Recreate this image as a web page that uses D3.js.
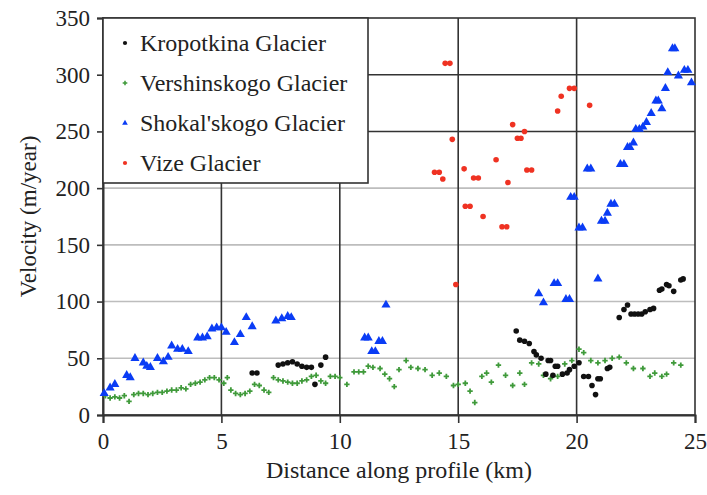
<!DOCTYPE html>
<html>
<head>
<meta charset="utf-8">
<script src="https://cdn.jsdelivr.net/npm/d3@7"></script>
<style>
  body { margin: 0; background: #fff; }
  svg text { font-family: "Liberation Serif", "DejaVu Serif", serif; fill: #222; }
</style>
</head>
<body>
<div id="chart"></div>
<script>
// velocities (km along profile, m/year)
var kropKm = [6.3,6.5,7.4,7.6,7.8,8.0,8.2,8.4,8.6,8.8,8.95,9.2,9.4,17.45,17.6,17.8,18.0,18.2,18.3,18.5,18.8,18.9,19.1,19.2,18.7,19.0,19.4,19.6,19.7,19.9,20.1,20.3,20.5,20.9,21.0,20.65,20.8,21.3,21.4,21.8,22.0,22.15,22.3,22.45,22.6,22.75,22.9,23.1,23.25,23.5,23.6,23.8,23.9,24.1,24.4,24.5];
var kropVel = [37,37,44,45,46,47,45,43,42,42,27,44,51,74,66,65,63,56,53,50,48,48,43,43,36,35,36,37,40,43,46,34,34,32,32,26,18,41,42,86,93,97,89,89,89,89,91,93,94,110,111,115,114,109,119,120];

var vershKm = [0.1,0.3,0.5,0.7,0.9,1.1,1.3,1.5,1.7,1.9,2.1,2.3,2.5,2.7,2.9,3.1,3.3,3.5,3.7,3.9,4.1,4.3,4.5,4.7,4.9,5.1,5.25,5.4,5.6,5.8,6.0,6.2,6.4,6.6,6.8,7.0,7.2,7.4,7.6,7.8,8.0,8.2,8.4,8.6,8.8,9.0,9.2,9.4,9.6,9.8,10.0,10.3,10.6,10.8,11.0,11.2,11.4,11.7,11.9,12.1,12.3,12.5,12.8,13.0,13.3,13.6,13.9,14.2,14.5,14.8,15.0,15.3,15.5,15.7,16.0,16.2,16.4,16.7,17.0,17.3,17.6,17.8,18.1,18.4,18.6,18.9,19.2,19.5,19.8,20.1,20.3,20.6,20.9,21.2,21.5,21.8,22.1,22.4,22.8,23.1,23.3,23.6,23.8,24.1,24.4];
var vershVel = [17,15,16,15,17,12,18,19,19,18,19,20,20,21,22,22,24,23,27,28,29,31,33,33,31,28,33,22,19,18,19,21,27,26,22,20,33,31,30,29,28,28,30,31,34,35,30,28,34,34,33,27,38,38,38,43,42,41,36,32,25,40,48,42,41,40,35,37,34,26,27,28,21,11,34,37,29,44,35,26,37,27,46,45,35,32,34,45,48,58,55,48,46,48,50,51,46,41,41,34,37,34,36,46,44];

var shokKm = [0.05,0.3,0.5,1.0,1.15,1.35,1.7,1.85,2.0,2.3,2.55,2.75,2.9,3.15,3.35,3.6,4.0,4.2,4.4,4.6,4.8,5.0,5.2,5.55,5.8,6.05,6.3,7.3,7.55,7.8,7.95,11.05,11.2,11.35,11.5,11.65,11.8,11.95,18.4,18.6,19.05,19.2,19.55,19.7,19.75,19.9,20.1,20.25,20.45,20.6,20.9,21.05,21.2,21.3,21.45,21.6,21.85,22.0,22.15,22.25,22.4,22.5,22.65,22.8,22.95,23.15,23.35,23.45,23.6,23.75,23.85,24.05,24.15,24.3,24.55,24.7,24.85];
var shokVel = [19,24,27,35,33,50,46,43,42,50,47,51,61,58,58,56,68,68,69,76,77,77,73,64,71,86,78,83,85,87,86,68,68,56,56,65,65,97,107,99,116,116,102,102,192,192,165,165,217,217,120,171,171,178,186,186,221,221,236,236,240,252,252,254,258,266,277,277,270,288,302,323,323,299,304,304,293];

var vizeKm = [14.0,14.2,14.35,14.45,14.65,14.75,14.9,15.25,15.3,15.5,15.65,15.85,16.05,16.6,16.85,17.05,17.1,17.3,17.5,17.65,17.8,17.9,18.1,19.2,19.35,19.7,19.9,20.55];
var vizeVel = [214,214,208,310,310,243,115,217,184,184,209,209,175,225,166,166,205,256,244,244,250,216,216,268,281,288,288,273];

var seriesNames = ["Kropotkina Glacier", "Vershinskogo Glacier", "Shokal'skogo Glacier", "Vize Glacier"];
var xTicks = [0, 5, 10, 15, 20, 25];
var yTicks = [0, 50, 100, 150, 200, 250, 300, 350];

var W = 707, H = 495;
var margin = {top: 18, right: 12, bottom: 80, left: 103};
var width = W - margin.left - margin.right;
var height = H - margin.top - margin.bottom;

var svg = d3.select("#chart").append("svg")
    .attr("width", W)
    .attr("height", H);

var g = svg.append("g")
    .attr("transform", "translate(" + margin.left + "," + margin.top + ")");

var x = d3.scaleLinear().domain([0, 25]).range([0, width]);
var y = d3.scaleLinear().domain([0, 350]).range([height, 0]);

// horizontal grid (the two upper ones are printed darker)
g.selectAll(".hgrid")
  .data(yTicks.filter(d => d > 0 && d < 350))
  .enter().append("line")
    .attr("x1", 0).attr("x2", width)
    .attr("y1", d => y(d)).attr("y2", d => y(d))
    .attr("stroke", d => d >= 250 ? "#333" : "#bdbdbd")
    .attr("stroke-width", 1.6);

// vertical grid
g.selectAll(".vgrid")
  .data(xTicks.filter(d => d > 0 && d < 25))
  .enter().append("line")
    .attr("x1", d => x(d)).attr("x2", d => x(d))
    .attr("y1", 0).attr("y2", height)
    .attr("stroke", "#333")
    .attr("stroke-width", 1.6);

// frame
g.append("rect")
  .attr("width", width).attr("height", height)
  .attr("fill", "none").attr("stroke", "#333").attr("stroke-width", 1.6);

// axes
var xAxis = g.append("g")
  .attr("transform", "translate(0," + height + ")")
  .call(d3.axisBottom(x).tickValues(xTicks).tickSize(8).tickPadding(10));
var yAxis = g.append("g")
  .call(d3.axisLeft(y).tickValues(yTicks).tickSize(6).tickPadding(7));

[xAxis, yAxis].forEach(function(a) {
  a.select(".domain").attr("stroke", "#333").attr("stroke-width", 2);
  a.selectAll(".tick line").attr("stroke", "#333").attr("stroke-width", 1.6);
  a.selectAll(".tick text").attr("font-size", 23).attr("fill", "#222")
    .attr("font-family", "Liberation Serif, serif");
});

// axis titles
svg.append("text")
  .attr("x", margin.left + width / 2).attr("y", 478)
  .attr("text-anchor", "middle").attr("font-size", 24)
  .text("Distance along profile (km)");
svg.append("text")
  .attr("transform", "translate(36," + (margin.top + height / 2) + ") rotate(-90)")
  .attr("text-anchor", "middle").attr("font-size", 23)
  .text("Velocity (m/year)");

// markers
var pts = g.append("g");

pts.selectAll(".verch")
  .data(d3.zip(vershKm, vershVel))
  .enter().append("path")
    .attr("d", d3.symbol().type(d3.symbolCross).size(16))
    .attr("transform", d => "translate(" + x(d[0]) + "," + y(d[1]) + ")")
    .attr("fill", "#3f9a3a");

pts.selectAll(".krop")
  .data(d3.zip(kropKm, kropVel))
  .enter().append("circle")
    .attr("cx", d => x(d[0])).attr("cy", d => y(d[1]))
    .attr("r", 2.8).attr("fill", "#111");

pts.selectAll(".shok")
  .data(d3.zip(shokKm, shokVel))
  .enter().append("path")
    .attr("d", d3.symbol().type(d3.symbolTriangle).size(36))
    .attr("transform", d => "translate(" + x(d[0]) + "," + y(d[1]) + ")")
    .attr("fill", "#0a3cf5");

pts.selectAll(".vize")
  .data(d3.zip(vizeKm, vizeVel))
  .enter().append("circle")
    .attr("cx", d => x(d[0])).attr("cy", d => y(d[1]))
    .attr("r", 2.8).attr("fill", "#ef3222");

// legend
var leg = g.append("g");
leg.append("rect")
  .attr("x", 0).attr("y", 0).attr("width", 265).attr("height", 165)
  .attr("fill", "#fff").attr("stroke", "#333").attr("stroke-width", 1.6);

var legColors = ["#111", "#3f9a3a", "#0a3cf5", "#ef3222"];
var legShapes = [d3.symbolCircle, d3.symbolCross, d3.symbolTriangle, d3.symbolCircle];
seriesNames.forEach(function(name, i) {
  var yy = 25 + i * 40;
  leg.append("path")
    .attr("d", d3.symbol().type(legShapes[i]).size(i === 1 ? 12 : 14))
    .attr("transform", "translate(22," + yy + ")")
    .attr("fill", legColors[i]);
  leg.append("text")
    .attr("x", 37).attr("y", yy + 8)
    .attr("font-size", 24)
    .text(name);
});
</script>
</body>
</html>
